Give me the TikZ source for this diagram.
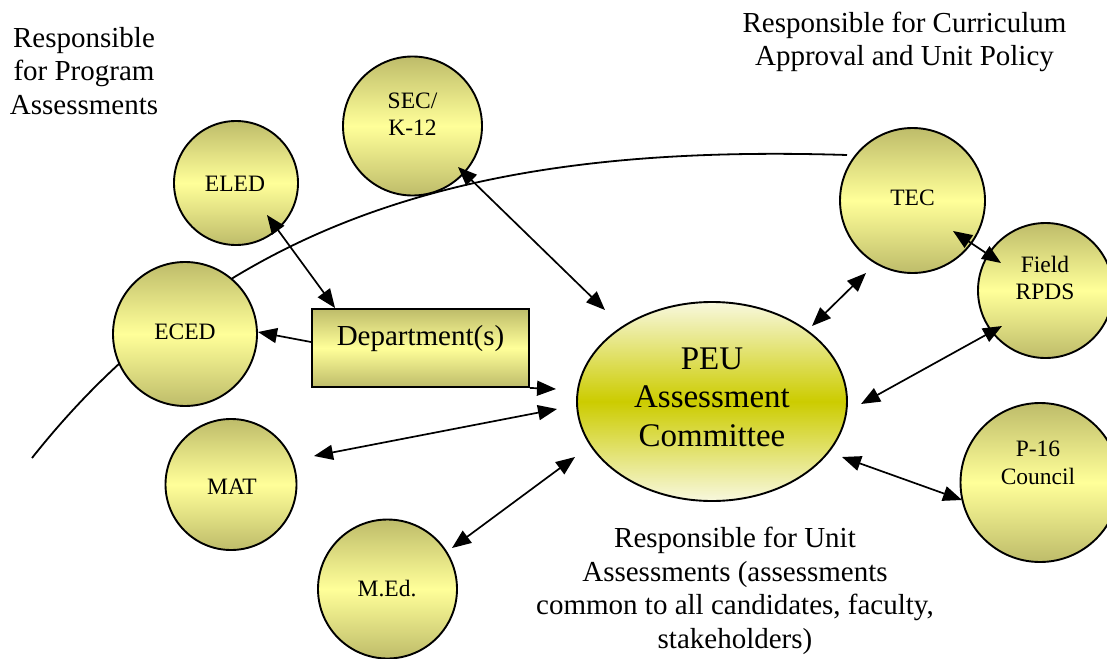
\documentclass[tikz,border=0pt]{standalone}
\usepackage{fontspec}
\setmainfont{Liberation Serif}
\usetikzlibrary{arrows.meta,shapes.geometric}
\definecolor{olivedark}{RGB}{190,188,106}
\definecolor{paleyellow}{RGB}{255,255,153}
\definecolor{ellpale}{RGB}{248,248,222}
\definecolor{ellmid}{RGB}{204,204,0}
\begin{document}
\begin{tikzpicture}[x=1pt,y=-1pt,
  bubble/.style={circle,draw=black,line width=1.9pt,inner sep=0pt,
    top color=olivedark,bottom color=olivedark,middle color=paleyellow},
  deptbox/.style={rectangle,draw=black,line width=1.9pt,inner sep=0pt,
    minimum width=217pt,minimum height=78pt,
    top color=olivedark,bottom color=olivedark,middle color=paleyellow},
  committee/.style={ellipse,draw=black,line width=1.9pt,inner sep=0pt,
    minimum width=270pt,minimum height=199pt,
    top color=ellpale,bottom color=ellpale,middle color=ellmid},
  smalltext/.style={align=center,inner sep=0pt,font=\fontsize{23.5}{27.5}\selectfont},
  bigtext/.style={align=center,inner sep=0pt,font=\fontsize{29}{33.5}\selectfont},
  twoway/.style={line width=1.7pt,{Triangle[length=19pt,width=15pt]}-{Triangle[length=19pt,width=15pt]}},
  oneway/.style={line width=1.7pt,-{Triangle[length=19pt,width=15pt]}}
]
\useasboundingbox (0,0) rectangle (1107,658);

% boundary curve separating program level from unit level
\draw[line width=1.8pt] (32,458) .. controls (230,208) and (497,144) .. (847,155);

% program circles
\node[bubble,minimum size=139pt] (SEC)   at (412.5,126)  {};
\node[bubble,minimum size=124pt] (ELED)  at (236,183)    {};
\node[bubble,minimum size=144pt] (ECED)  at (185,334)    {};
\node[bubble,minimum size=131pt] (MAT)   at (231,484.5)  {};
\node[bubble,minimum size=139pt] (MEd)   at (387.5,589)  {};
% unit-level circles
\node[bubble,minimum size=145pt] (TEC)   at (912.5,200.5){};
\node[bubble,minimum size=135pt] (Field) at (1045.5,290.5){};
\node[bubble,minimum size=159pt] (P16)   at (1040,482.5) {};

\node[deptbox] (Dept) at (420.5,348) {};
\node[committee] (PEU) at (712,401.5) {};

% labels inside the shapes
\node[smalltext] (SECtxt)   at (412.5,114) {SEC/\\K-12};
\node[smalltext] (ELEDtxt)  at (235,184)   {ELED};
\node[smalltext] (ECEDtxt)  at (185,332)   {ECED};
\node[smalltext] (MATtxt)   at (232,487)   {MAT};
\node[smalltext] (MEdtxt)   at (387,589)   {M.Ed.};
\node[smalltext] (TECtxt)   at (912.5,198) {TEC};
\node[smalltext] (Fieldtxt) at (1045,278)  {Field\\RPDS};
\node[smalltext] (P16txt)   at (1038,463)  {P-16\\Council};
\node[bigtext]   (Depttxt)  at (420.5,339) {Department(s)};
\node[align=center,inner sep=0pt,font=\fontsize{33}{38.5}\selectfont] (PEUtxt) at (712,397)
  {PEU\\Assessment\\Committee};

% responsibility captions
\node[bigtext] (progcap) at (84,71)   {Responsible\\for Program\\Assessments};
\node[bigtext] (currcap) at (904.5,42) {Responsible for Curriculum\\Approval and Unit Policy};
\node[bigtext] (unitcap) at (735,591) {Responsible for Unit\\Assessments (assessments\\common to all candidates, faculty,\\stakeholders)};

% connectors
\draw[twoway] ([shift={(31,32)}]ELED.center) -- ([shift={(24,0)}]Dept.north west);
\draw[oneway] ([shift={(0,-6)}]Dept.west) -- ([shift={(73,-2)}]ECED.center);
\draw[oneway] (Dept.south east) -- ([shift={(-156,-12.5)}]PEU.center);
\draw[twoway] ([shift={(45.5,41)}]SEC.center) -- ([shift={(-107,-91.5)}]PEU.center);
\draw[twoway] ([shift={(83,-28.5)}]MAT.center) -- ([shift={(-155,7.5)}]PEU.center);
\draw[twoway] ([shift={(64.5,-41)}]MEd.center) -- ([shift={(-137,55.5)}]PEU.center);
\draw[twoway] ([shift={(-46.5,72.5)}]TEC.center) -- ([shift={(100,-75.5)}]PEU.center);
\draw[twoway] ([shift={(40.5,30.5)}]TEC.center) -- ([shift={(-44.5,-27.5)}]Field.center);
\draw[twoway] ([shift={(-43.5,35.5)}]Field.center) -- ([shift={(149,2.5)}]PEU.center);
\draw[twoway] ([shift={(-78,17.5)}]P16.center) -- ([shift={(130,55.5)}]PEU.center);
\end{tikzpicture}
\end{document}
